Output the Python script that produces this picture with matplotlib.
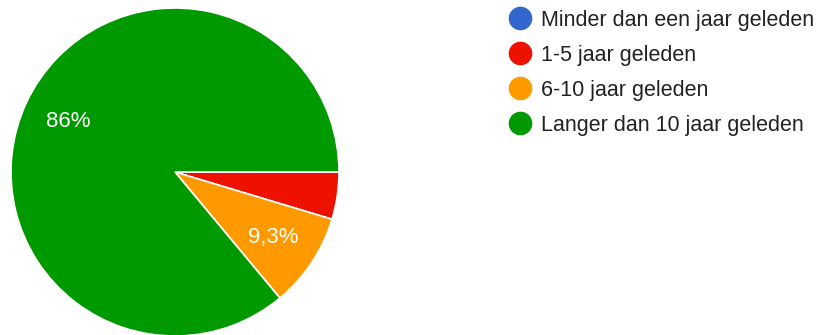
import matplotlib.pyplot as plt
from matplotlib.lines import Line2D

plt.rcParams['font.family'] = ['Liberation Sans', 'DejaVu Sans']

# antwoorden per categorie (aantal respondenten)
categories = ['Minder dan een jaar geleden', '1-5 jaar geleden',
              '6-10 jaar geleden', 'Langer dan 10 jaar geleden']
counts = [0, 2, 4, 37]
colors = ['#3366CC', '#EE1100', '#FF9900', '#009900']


def pct_label(p):
    # kleine stukken krijgen geen label, decimaal met komma
    if p < 8:
        return ''
    if p >= 10:
        return f'{p:.0f}%'
    return f'{p:.1f}%'.replace('.', ',')


W, H = 824, 335
fig = plt.figure(figsize=(W / 100, H / 100), dpi=100)

# pie: middelpunt (175, 172), straal 164 px
cx, cy, r = 175, 172, 164
ax = fig.add_axes([(cx - r) / W, (H - cy - r) / H, 2 * r / W, 2 * r / H])
wedges, texts, autotexts = ax.pie(
    counts, colors=colors, startangle=0, counterclock=False,
    autopct=pct_label, pctdistance=0.72, radius=1,
    wedgeprops=dict(edgecolor='white', linewidth=1.2),
    textprops=dict(color='white', fontsize=16))
ax.set_xlim(-1, 1)
ax.set_ylim(-1, 1)
ax.set_aspect('equal')
ax.axis('off')

handles = [Line2D([], [], linestyle='none', marker='o', markersize=16,
                  markerfacecolor=c, markeredgecolor=c) for c in colors]
fig.legend(handles, categories, loc='upper left',
           bbox_to_anchor=(509 / W, 1 - 10 / H), frameon=False,
           fontsize=15.5, labelcolor='#222222', handlelength=1.0,
           handletextpad=0.49, labelspacing=0.65, borderaxespad=0,
           borderpad=0)

fig.savefig('out.png', dpi=100)
